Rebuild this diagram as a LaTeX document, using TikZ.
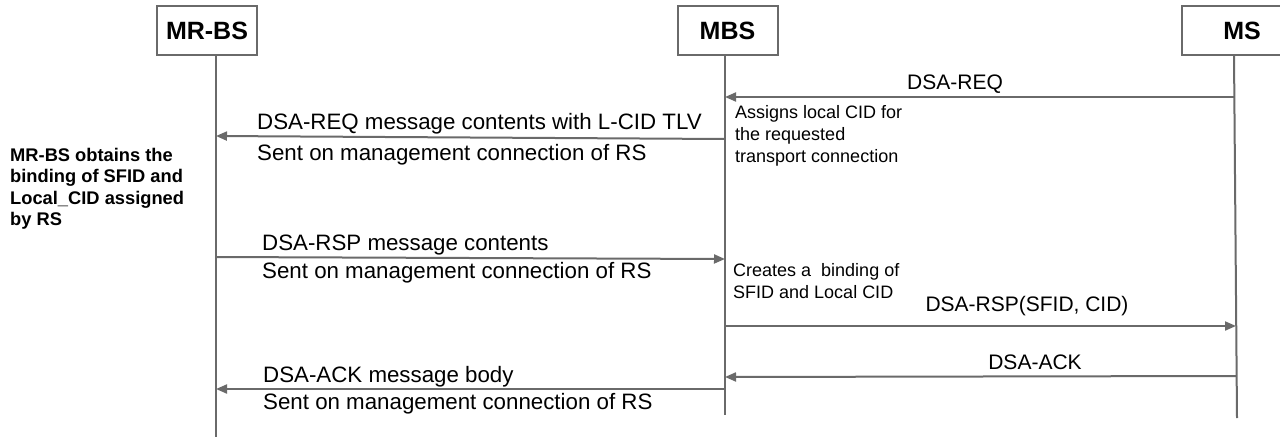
\documentclass[tikz,border=0pt]{standalone}
\usepackage{fontspec}
\setmainfont{Liberation Sans}
\usetikzlibrary{arrows.meta}
\definecolor{ln}{HTML}{6A6A6A}
\tikzset{
  entity/.style={draw=ln, line width=2pt, fill=white, minimum width=100pt, minimum height=49pt, inner sep=0pt, font=\fontsize{25}{30}\selectfont\bfseries},
  life/.style={draw=ln, line width=2pt},
  msg/.style={draw=ln, line width=2pt, -{Triangle[length=11pt,width=9pt]}},
  lbl/.style={font=\fontsize{21}{25}\selectfont, inner sep=0pt},
  llbl/.style={font=\fontsize{22.3}{26}\selectfont, inner sep=0pt, anchor=west},
  note/.style={font=\fontsize{18}{22}\selectfont, inner sep=0pt, align=left, anchor=north west},
  bnote/.style={font=\fontsize{18.3}{21.3}\selectfont\bfseries, inner sep=0pt, align=left, anchor=north west}
}
\begin{document}
\begin{tikzpicture}[x=1pt,y=-1pt]
\useasboundingbox (0,0) rectangle (1280,442);
% entities
\node[entity] (mrbs) at (207,30.5) {MR-BS};
\node[entity] (mbs) at (727.5,30.5) {MBS};
\node[entity, minimum width=120pt] (ms) at (1242,30.5) {MS};
% lifelines
\coordinate (l1t) at (216,55);
\coordinate (l1b) at (216,437);
\coordinate (l2t) at (725,55);
\coordinate (l2b) at (725,415);
\coordinate (l3t) at (1234,55);
\coordinate (l3b) at (1237,418);
\draw[life] (l1t) -- (l1b);
\draw[life] (l2t) -- (l2b);
\draw[life] (l3t) -- (l3b);
% message end points
\coordinate (a1s) at (1234.3,97);  \coordinate (a1e) at (725,97);
\coordinate (a2s) at (725,139);    \coordinate (a2e) at (216,136);
\coordinate (a3s) at (216,257);    \coordinate (a3e) at (725,259);
\coordinate (a4s) at (725,326);    \coordinate (a4e) at (1236,326);
\coordinate (a5s) at (1236,376);   \coordinate (a5e) at (725,377);
\coordinate (a6s) at (725,389);    \coordinate (a6e) at (216,389);
\draw[msg] (a1s) -- (a1e);
\draw[msg] (a2s) -- (a2e);
\draw[msg] (a3s) -- (a3e);
\draw[msg] (a4s) -- (a4e);
\draw[msg] (a5s) -- (a5e);
\draw[msg] (a6s) -- (a6e);
% labels
\node[lbl] (t1) at (955,84) {DSA-REQ};
\node[llbl] (t2a) at (257,124) {DSA-REQ message contents with L-CID TLV};
\node[llbl] (t2b) at (257,155) {Sent on management connection of RS};
\node[llbl] (t3a) at (262,245) {DSA-RSP message contents};
\node[llbl] (t3b) at (262,273) {Sent on management connection of RS};
\node[lbl] (t4) at (1027,306) {DSA-RSP(SFID, CID)};
\node[lbl] (t5) at (1035,362) {DSA-ACK};
\node[llbl] (t6a) at (263,377) {DSA-ACK message body};
\node[llbl] (t6b) at (263,404) {Sent on management connection of RS};
% notes
\node[note] (n1) at (735,105) {Assigns local CID for\\the requested\\transport connection};
\node[note] (n2) at (733,263) {Creates a\ \ binding of\\SFID and Local CID};
\node[bnote] (n3) at (10,148) {MR-BS obtains the\\binding of SFID and\\Local\_CID assigned\\by RS};
\end{tikzpicture}
\end{document}
